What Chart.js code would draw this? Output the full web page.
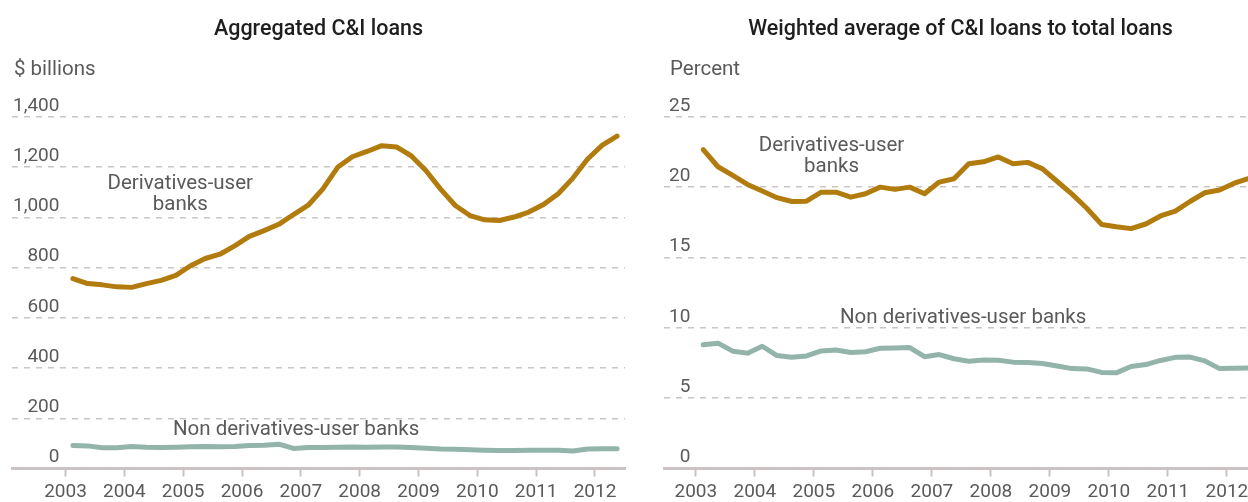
<!DOCTYPE html>
<html>
<head>
<meta charset="utf-8">
<title>C&amp;I loans</title>
<script src="https://cdn.jsdelivr.net/npm/chart.js@4"></script>
<style>
    html, body {
        margin: 0;
        padding: 0;
        background: #fff;
        width: 1248px;
        height: 502px;
        overflow: hidden;
    }
    .panel {
        position: absolute;
        top: 0;
        height: 502px;
    }
    #leftPanel { left: 0; width: 630px; }
    #rightPanel { left: 630px; width: 640px; }
</style>
</head>
<body>
<div class="panel" id="leftPanel"><canvas id="loansChart" width="630" height="502"></canvas></div>
<div class="panel" id="rightPanel"><canvas id="shareChart" width="640" height="502"></canvas></div>

<script>
// Quarterly observations, 2003Q1 - 2012Q2
const quarters = [
    '2003Q1', '2003Q2', '2003Q3', '2003Q4', '2004Q1', '2004Q2', '2004Q3', '2004Q4',
    '2005Q1', '2005Q2', '2005Q3', '2005Q4', '2006Q1', '2006Q2', '2006Q3', '2006Q4',
    '2007Q1', '2007Q2', '2007Q3', '2007Q4', '2008Q1', '2008Q2', '2008Q3', '2008Q4',
    '2009Q1', '2009Q2', '2009Q3', '2009Q4', '2010Q1', '2010Q2', '2010Q3', '2010Q4',
    '2011Q1', '2011Q2', '2011Q3', '2011Q4', '2012Q1', '2012Q2'
];

// Aggregated C&I loans, $ billions
const derivUserLoans = [
    756, 736, 731, 723, 721, 736, 749, 769, 807, 836, 853, 886, 924, 947, 972, 1011,
    1048, 1113, 1199, 1241, 1262, 1285, 1280, 1245, 1186, 1112, 1047, 1007, 990, 987,
    1001, 1021, 1051, 1094, 1156, 1232, 1287, 1323
];
const nonDerivLoans = [
    92, 90, 83, 83, 88, 85, 84, 85, 87, 88, 87, 88, 92, 93, 97, 80,
    84, 84, 85, 86, 85, 86, 86, 84, 81, 78, 77, 75, 73, 72,
    72, 73, 73, 73, 70, 78, 79, 79
];

// Weighted average of C&I loans to total loans, percent
const derivUserShare = [
    22.66, 21.45, 20.83, 20.19, 19.72, 19.25, 18.98, 19.0, 19.64, 19.64, 19.29, 19.53,
    20.0, 19.84, 20.0, 19.53, 20.36, 20.6, 21.66, 21.8, 22.15, 21.66, 21.76, 21.3,
    20.4, 19.5, 18.5, 17.35, 17.18, 17.05, 17.38, 17.95, 18.3, 18.98, 19.6, 19.8,
    20.28, 20.62
];
const nonDerivShare = [
    8.79, 8.91, 8.34, 8.2, 8.69, 8.03, 7.91, 8.0, 8.36, 8.42, 8.25, 8.3,
    8.55, 8.57, 8.6, 7.95, 8.1, 7.8, 7.62, 7.72, 7.7, 7.56, 7.53, 7.46,
    7.28, 7.1, 7.08, 6.83, 6.8, 7.25, 7.39, 7.68, 7.9, 7.92, 7.65, 7.1,
    7.13, 7.15
];

const yearTicks = [2003, 2004, 2005, 2006, 2007, 2008, 2009, 2010, 2011, 2012];
const loanTicks = [0, 200, 400, 600, 800, 1000, 1200, 1400];
const shareTicks = [0, 5, 10, 15, 20, 25];

const colors = {
    derivUser: '#b27b0e',
    nonDeriv: '#93b4aa',
    grid: '#cac5c5',
    axis: '#cbc3c3',
    label: '#5a5a5a',
    title: '#1e1e1e'
};
const FONT = 'Roboto, "Noto Sans", sans-serif';

// quarter label -> decimal year at the middle of the quarter
function quarterPos(q) {
    return Number(q.slice(0, 4)) + (Number(q.slice(5)) - 0.5) / 4;
}
function toPoints(values) {
    return values.map((v, i) => ({ x: quarterPos(quarters[i]), y: v }));
}

// draws the in-chart series labels and the unit caption
const textLabels = {
    id: 'textLabels',
    afterDatasetsDraw(chart, args, opts) {
        const { ctx, chartArea, scales } = chart;
        ctx.save();
        ctx.font = '20.5px ' + FONT;
        ctx.fillStyle = colors.label;
        ctx.textBaseline = 'middle';
        ctx.textAlign = 'center';
        opts.notes.forEach(note => {
            const cx = scales.x.getPixelForValue(note.x);
            const cy = scales.y.getPixelForValue(note.y);
            const n = note.lines.length;
            note.lines.forEach((line, i) => {
                ctx.fillText(line, cx, cy + (i - (n - 1) / 2) * 21);
            });
        });
        ctx.textAlign = 'left';
        ctx.fillText(opts.unit, chartArea.left + opts.unitDx, chartArea.top - 47);
        ctx.restore();
    }
};

function createChart(id, cfg) {
    return new Chart(document.getElementById(id), {
        type: 'line',
        data: {
            datasets: [
                { data: toPoints(cfg.series[0]), borderColor: colors.derivUser },
                { data: toPoints(cfg.series[1]), borderColor: colors.nonDeriv }
            ]
        },
        plugins: [textLabels],
        options: {
            responsive: false,
            devicePixelRatio: 1,
            animation: false,
            layout: { padding: { left: cfg.padLeft, right: cfg.padRight, top: 0, bottom: 0 } },
            elements: {
                point: { radius: 0 },
                line: { borderWidth: 5, tension: 0, borderCapStyle: 'round', borderJoinStyle: 'round' }
            },
            scales: {
                x: {
                    type: 'linear',
                    min: cfg.xMin,
                    max: 2012.51,
                    afterBuildTicks: scale => { scale.ticks = yearTicks.map(v => ({ value: v })); },
                    afterFit: scale => { scale.height = 33.5; },
                    ticks: {
                        callback: v => String(v),
                        color: colors.label,
                        font: { family: FONT, size: 19 },
                        padding: 4,
                        maxRotation: 0
                    },
                    grid: {
                        drawOnChartArea: false,
                        drawTicks: true,
                        tickLength: 8,
                        tickWidth: 2,
                        tickColor: colors.axis
                    },
                    border: { display: true, color: colors.axis, width: 3 }
                },
                y: {
                    min: 0,
                    max: cfg.yMax,
                    afterBuildTicks: scale => { scale.ticks = cfg.yTicks.map(v => ({ value: v })); },
                    afterFit: scale => { scale.width = 0; },
                    ticks: {
                        mirror: true,
                        crossAlign: 'far',
                        padding: cfg.labelPad,
                        labelOffset: -11,
                        color: colors.label,
                        font: { family: FONT, size: 19 },
                        callback: v => v.toLocaleString('en-US')
                    },
                    grid: {
                        drawTicks: false,
                        lineWidth: 1.5,
                        color: c => (c.tick && c.tick.value === 0 ? 'rgba(0,0,0,0)' : colors.grid)
                    },
                    border: { display: false, dash: [6, 6] }
                }
            },
            plugins: {
                legend: { display: false },
                tooltip: { enabled: false },
                title: {
                    display: true,
                    text: cfg.title,
                    fullSize: false,
                    color: colors.title,
                    font: { family: FONT, size: 21.5, weight: '500' },
                    padding: { top: 17, bottom: 74 }
                },
                textLabels: { unit: cfg.unit, unitDx: cfg.unitDx, notes: cfg.notes }
            }
        }
    });
}

createChart('loansChart', {
    title: 'Aggregated C&I loans',
    unit: '$ billions',
    unitDx: 2,
    series: [derivUserLoans, nonDerivLoans],
    yMax: 1400,
    yTicks: loanTicks,
    xMin: 2002.09,
    padLeft: 12,
    padRight: 5,
    labelPad: 1,
    notes: [
        { lines: ['Derivatives-user', 'banks'], x: 2004.95, y: 1090 },
        { lines: ['Non derivatives-user banks'], x: 2006.92, y: 152 }
    ]
});

createChart('shareChart', {
    title: 'Weighted average of C&I loans to total loans',
    unit: 'Percent',
    unitDx: 6,
    series: [derivUserShare, nonDerivShare],
    yMax: 25,
    yTicks: shareTicks,
    xMin: 2002.46,
    padLeft: 34,
    padRight: 13,
    labelPad: 5,
    notes: [
        { lines: ['Derivatives-user', 'banks'], x: 2005.3, y: 22.19 },
        { lines: ['Non derivatives-user banks'], x: 2007.53, y: 10.74 }
    ]
});
</script>
</body>
</html>
